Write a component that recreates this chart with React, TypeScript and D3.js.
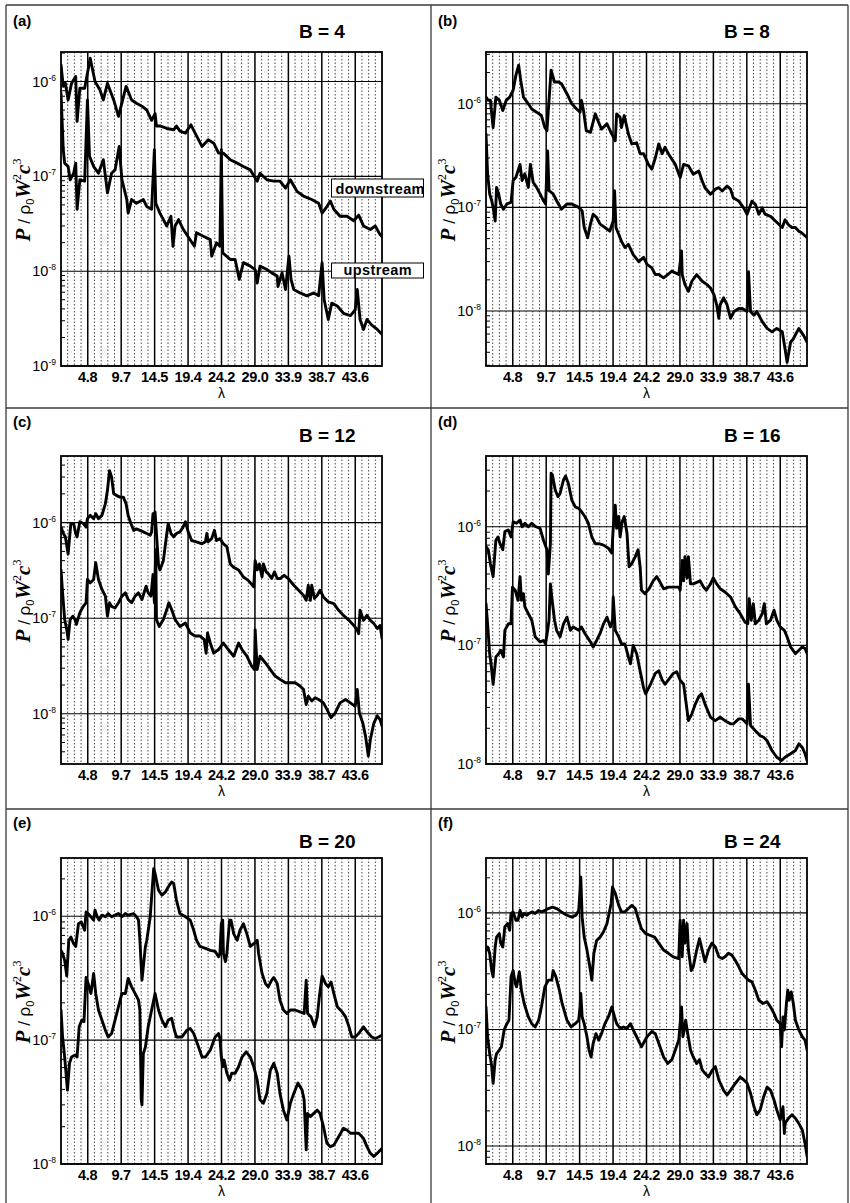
import React, { useEffect, useRef } from 'react';
import * as d3 from 'd3';

// lambda axis: harmonics spaced 0.969, labels every 5th
const lambdaStep = 0.969;
const xTickLabels = ['4.8', '9.7', '14.5', '19.4', '24.2', '29.0', '33.9', '38.7', '43.6'];

// [lambda, P / rho0 W^2 c^3]
const aDown = [[0.97,1.5e-6],[1.3,8.9e-7],[1.6,9.6e-7],[2.0,6.4e-7],[2.5,9.6e-7],[3.1,1.13e-6],[3.3,3.8e-7],[3.7,8.5e-7],[4.4,8.5e-7],[5.2,1.76e-6],[5.9,1.0e-6],[6.6,8.2e-7],[7.1,6.4e-7],[7.7,9.6e-7],[8.6,6.4e-7],[9.3,4.3e-7],[10.4,8.9e-7],[11.2,6.4e-7],[11.9,5.9e-7],[12.7,5.5e-7],[13.4,5.0e-7],[14.1,3.9e-7],[14.6,4.6e-7],[14.8,3.4e-7],[15.3,3.4e-7],[16.3,3.2e-7],[17.3,3.1e-7],[17.7,3.4e-7],[18.2,3.0e-7],[19.0,2.86e-7],[19.8,3.5e-7],[20.4,2.86e-7],[21.4,2.07e-7],[22.3,2.43e-7],[23.1,2.24e-7],[23.8,1.76e-7],[24.5,1.76e-7],[25.5,1.5e-7],[26.5,1.38e-7],[27.4,1.27e-7],[28.4,1.17e-7],[29.4,8.9e-8],[29.8,1.08e-7],[30.8,9.2e-8],[31.8,8.9e-8],[32.7,8.9e-8],[33.5,7.5e-8],[34.2,9.2e-8],[35.2,6.9e-8],[36.1,6.2e-8],[37.3,5.7e-8],[38.3,5.2e-8],[38.8,4.1e-8],[39.5,4.8e-8],[40.0,5.5e-8],[40.5,4.5e-8],[41.4,3.8e-8],[42.4,3.8e-8],[43.4,3.4e-8],[44.1,3.9e-8],[44.8,3.0e-8],[45.8,2.75e-8],[46.5,3.0e-8],[47.2,2.43e-8],[47.5,2.3e-8]];
const aUp = [[0.97,7.5e-7],[1.3,1.9e-7],[1.5,1.38e-7],[2.0,1.27e-7],[2.3,9.2e-8],[2.8,1.08e-7],[3.1,1.38e-7],[3.3,4.5e-8],[3.7,9.2e-8],[4.4,8.9e-8],[4.8,6.4e-7],[5.1,1.63e-7],[5.7,1.27e-7],[6.4,1.08e-7],[7.1,1.5e-7],[7.7,6.7e-8],[8.3,1.08e-7],[8.8,1.17e-7],[9.4,2.07e-7],[9.8,9.2e-8],[10.5,5.7e-8],[10.7,4.1e-8],[11.2,5.7e-8],[11.9,5.2e-8],[12.9,5.7e-8],[13.4,4.8e-8],[14.1,4.5e-8],[14.5,1.91e-7],[14.7,5.2e-8],[15.3,4.1e-8],[16.3,3.0e-8],[16.9,3.8e-8],[17.2,1.83e-8],[17.5,3.0e-8],[18.0,3.5e-8],[18.7,2.75e-8],[20.3,1.83e-8],[20.6,2.54e-8],[21.6,2.34e-8],[22.6,2.15e-8],[22.8,1.44e-8],[23.5,1.99e-8],[24.0,1.83e-8],[24.2,1.91e-7],[24.4,1.56e-8],[25.5,1.33e-8],[26.2,1.33e-8],[26.8,8.2e-9],[27.4,1.23e-8],[28.4,1.13e-8],[29.1,1.04e-8],[29.4,7.5e-9],[29.8,1.13e-8],[30.8,1.04e-8],[31.5,9.6e-9],[32.3,8.9e-9],[32.4,6.9e-9],[33.0,9.6e-9],[33.5,6.4e-9],[34.0,1.44e-8],[34.3,8.2e-9],[34.7,6.4e-9],[35.6,5.9e-9],[36.6,5.5e-9],[37.6,5.9e-9],[38.3,5.5e-9],[38.8,1.23e-8],[39.1,5.0e-9],[39.7,3.1e-9],[40.2,4.6e-9],[41.0,4.3e-9],[41.9,3.6e-9],[42.9,3.4e-9],[43.6,3.9e-9],[43.9,6.4e-9],[44.3,3.1e-9],[44.8,2.43e-9],[45.3,3.1e-9],[46.0,2.7e-9],[46.8,2.43e-9],[47.5,2.15e-9]];

const bDown = [[0.97,1.16e-6],[1.3,1.08e-6],[1.6,1.08e-6],[2.0,5.9e-7],[2.4,1.16e-6],[2.9,1.08e-6],[3.4,8.6e-7],[3.9,1.08e-6],[4.4,1.16e-6],[4.9,1.35e-6],[5.3,1.88e-6],[5.7,2.36e-6],[6.0,1.69e-6],[6.4,1.16e-6],[7.1,1.0e-6],[7.6,8.9e-7],[8.3,8.3e-7],[9.0,7.7e-7],[9.5,5.9e-7],[9.8,5.5e-7],[10.1,1.08e-6],[10.4,2.11e-6],[10.9,1.62e-6],[11.5,1.62e-6],[11.9,1.56e-6],[12.7,1.25e-6],[13.4,1.0e-6],[14.1,8.9e-7],[14.6,8.3e-7],[14.8,1.08e-6],[15.1,8.6e-7],[15.5,5.5e-7],[16.1,5.3e-7],[16.8,8.0e-7],[17.3,6.6e-7],[17.7,5.7e-7],[18.5,6.4e-7],[19.2,5.1e-7],[19.7,4.4e-7],[19.9,8.0e-7],[20.4,7.4e-7],[20.6,5.9e-7],[21.0,7.7e-7],[21.6,5.1e-7],[22.1,4.1e-7],[22.8,4.2e-7],[23.3,3.3e-7],[23.8,3.3e-7],[24.5,2.6e-7],[25.0,2.34e-7],[25.5,3.0e-7],[26.0,4.1e-7],[26.5,3.3e-7],[26.9,3.8e-7],[27.4,3.3e-7],[27.9,2.92e-7],[28.4,2.6e-7],[29.1,1.94e-7],[29.6,2.6e-7],[30.3,2.52e-7],[31.0,2.09e-7],[31.8,2.25e-7],[32.3,1.8e-7],[32.7,1.55e-7],[33.5,1.34e-7],[34.2,1.5e-7],[34.7,1.55e-7],[35.2,1.44e-7],[35.9,1.61e-7],[36.4,1.5e-7],[36.8,1.24e-7],[37.6,1.15e-7],[38.3,9.9e-8],[38.8,8.6e-8],[39.5,1.15e-7],[40.0,1.07e-7],[40.5,8.6e-8],[41.0,9.9e-8],[41.4,8.6e-8],[42.2,8.2e-8],[42.9,7.4e-8],[43.9,6.4e-8],[44.3,7.6e-8],[44.8,6.8e-8],[45.3,6.4e-8],[45.8,6.4e-8],[46.3,5.9e-8],[46.7,5.7e-8],[47.5,5.1e-8]];
const bUp = [[0.97,5.1e-7],[1.2,2.11e-7],[1.5,1.35e-7],[1.8,1.16e-7],[2.0,1.0e-7],[2.3,7.4e-8],[2.5,1.56e-7],[2.8,1.35e-7],[3.1,1.08e-7],[3.5,9.6e-8],[4.0,1.08e-7],[4.6,1.12e-7],[4.9,1.82e-7],[5.3,1.95e-7],[5.9,2.6e-7],[6.2,1.82e-7],[6.6,2.11e-7],[7.1,1.56e-7],[7.4,2.6e-7],[7.8,1.75e-7],[8.3,1.56e-7],[8.8,1.35e-7],[9.3,1.16e-7],[9.6,1.08e-7],[9.9,3.5e-7],[10.1,1.45e-7],[10.7,1.35e-7],[11.2,1.16e-7],[11.9,9.6e-8],[12.7,1.08e-7],[13.4,1.08e-7],[14.4,1.0e-7],[14.9,9.3e-8],[15.2,6.4e-8],[15.7,5.1e-8],[16.1,6.9e-8],[16.5,8.6e-8],[17.0,8.0e-8],[17.5,6.9e-8],[18.2,6.4e-8],[18.9,5.9e-8],[19.4,7.4e-8],[19.6,1.45e-7],[19.8,6.4e-8],[20.2,5.5e-8],[20.6,4.7e-8],[21.1,4.1e-8],[21.6,4.4e-8],[22.3,3.5e-8],[23.1,3.0e-8],[23.8,3.3e-8],[24.3,2.82e-8],[25.0,2.61e-8],[25.5,2.25e-8],[26.0,2.25e-8],[26.7,2.09e-8],[27.3,2.25e-8],[27.9,2.43e-8],[28.9,2.25e-8],[29.3,3.8e-8],[29.4,2.25e-8],[29.8,1.8e-8],[30.3,1.55e-8],[30.8,1.94e-8],[31.5,2.25e-8],[32.3,1.94e-8],[33.0,1.8e-8],[33.5,1.67e-8],[34.0,1.44e-8],[34.4,1.15e-8],[34.7,8.5e-9],[34.9,1.15e-8],[35.4,1.34e-8],[35.9,1.15e-8],[36.4,8.5e-9],[36.9,9.9e-9],[37.6,1.06e-8],[38.1,1.06e-8],[38.8,9.9e-9],[39.0,2.4e-8],[39.3,9.9e-9],[39.8,9.1e-9],[40.2,9.9e-9],[41.0,7.9e-9],[41.7,6.8e-9],[42.4,6.3e-9],[43.1,6.8e-9],[43.9,6.3e-9],[44.3,4.3e-9],[44.6,3.2e-9],[45.1,5.0e-9],[45.5,5.4e-9],[46.3,6.8e-9],[47.0,5.8e-9],[47.5,5.0e-9]];

const cDown = [[0.97,9.0e-7],[1.3,7.7e-7],[1.6,7.1e-7],[2.0,4.7e-7],[2.4,9.8e-7],[2.8,9.8e-7],[3.1,7.7e-7],[3.3,7.1e-7],[3.7,1.02e-6],[4.2,9.8e-7],[4.6,9.0e-7],[4.8,1.1e-6],[5.2,1.19e-6],[5.7,1.1e-6],[6.0,1.24e-6],[6.4,1.1e-6],[6.9,1.19e-6],[7.4,1.58e-6],[7.7,2.18e-6],[8.0,3.5e-6],[8.3,3.0e-6],[8.6,2.01e-6],[9.0,1.93e-6],[9.5,1.85e-6],[10.0,1.85e-6],[10.4,1.58e-6],[10.7,1.19e-6],[11.1,9.8e-7],[11.5,8.3e-7],[11.9,8.6e-7],[12.4,8.3e-7],[12.9,8.0e-7],[13.4,7.7e-7],[13.9,7.4e-7],[14.1,8.0e-7],[14.3,1.24e-6],[14.5,9.8e-7],[14.6,1.29e-6],[14.8,7.7e-7],[15.1,3.6e-7],[15.3,3.2e-7],[15.8,4.0e-7],[16.3,7.7e-7],[16.5,9.8e-7],[16.9,7.7e-7],[17.3,7.1e-7],[17.7,7.7e-7],[18.2,8.0e-7],[18.6,8.8e-7],[19.0,1.02e-6],[19.4,8.0e-7],[19.9,6.5e-7],[20.6,6.3e-7],[21.4,6.0e-7],[21.9,6.3e-7],[22.1,7.7e-7],[22.3,6.3e-7],[22.8,6.8e-7],[23.2,8.3e-7],[23.5,6.5e-7],[24.0,6.8e-7],[24.5,6.0e-7],[25.0,5.6e-7],[25.5,3.7e-7],[26.0,3.4e-7],[26.7,3.2e-7],[27.4,2.7e-7],[28.1,2.49e-7],[28.9,2.13e-7],[29.1,4.0e-7],[29.4,3.2e-7],[29.7,3.7e-7],[30.1,2.7e-7],[30.3,3.7e-7],[30.7,3.05e-7],[31.0,2.93e-7],[31.5,2.6e-7],[31.9,3.05e-7],[32.3,2.6e-7],[32.7,2.6e-7],[33.3,2.81e-7],[33.9,2.6e-7],[34.7,2.21e-7],[35.4,1.96e-7],[36.1,1.74e-7],[36.5,1.54e-7],[36.8,2.21e-7],[37.1,1.54e-7],[37.3,2.21e-7],[37.7,1.61e-7],[38.1,1.74e-7],[38.5,1.96e-7],[39.0,1.67e-7],[39.7,1.48e-7],[40.5,1.42e-7],[41.2,1.21e-7],[41.9,1.07e-7],[42.7,9.5e-8],[43.4,8.4e-8],[43.9,7.5e-8],[44.1,6.9e-8],[44.3,1.21e-7],[44.8,9.5e-8],[45.3,1.07e-7],[45.8,9.5e-8],[46.3,8.8e-8],[46.8,7.8e-8],[47.2,8.4e-8],[47.5,6.1e-8]];
const cUp = [[0.97,3.2e-7],[1.2,1.84e-7],[1.5,9.7e-8],[1.8,7.6e-8],[2.0,6.0e-8],[2.3,9.7e-8],[2.7,1.05e-7],[3.0,9.7e-8],[3.2,8.6e-8],[3.7,1.14e-7],[4.2,1.33e-7],[4.6,1.45e-7],[4.8,2.54e-7],[5.2,2.34e-7],[5.7,2.54e-7],[6.0,3.8e-7],[6.4,2.54e-7],[6.9,2.0e-7],[7.4,1.7e-7],[7.7,1.05e-7],[8.0,1.45e-7],[8.3,1.33e-7],[8.8,1.28e-7],[9.3,1.45e-7],[9.8,1.7e-7],[10.3,1.84e-7],[10.7,1.57e-7],[11.2,1.45e-7],[11.7,1.7e-7],[12.2,1.84e-7],[12.7,1.57e-7],[13.3,2.16e-7],[13.6,1.84e-7],[14.0,1.7e-7],[14.3,2.86e-7],[14.5,1.45e-7],[14.7,5.2e-7],[14.8,9.7e-8],[15.2,8.2e-8],[15.8,9.7e-8],[16.3,1.23e-7],[16.6,1.45e-7],[17.0,1.23e-7],[17.5,9.7e-8],[18.2,8.2e-8],[19.0,8.9e-8],[19.7,7.0e-8],[20.4,6.5e-8],[21.1,6.5e-8],[21.7,6.0e-8],[22.0,4.3e-8],[22.2,7.0e-8],[22.6,5.5e-8],[23.1,4.3e-8],[23.8,4.7e-8],[24.5,5.5e-8],[25.2,4.7e-8],[26.0,4.0e-8],[26.7,5.5e-8],[27.2,4.7e-8],[27.9,4.0e-8],[28.6,3.15e-8],[29.0,2.9e-8],[29.1,7.6e-8],[29.4,2.9e-8],[29.8,4.0e-8],[30.6,3.4e-8],[31.3,2.9e-8],[32.0,2.48e-8],[32.7,2.29e-8],[33.5,2.11e-8],[34.2,2.11e-8],[34.9,2.11e-8],[35.6,1.95e-8],[36.1,1.8e-8],[36.5,1.25e-8],[36.8,1.53e-8],[37.3,1.36e-8],[37.8,1.47e-8],[38.3,1.41e-8],[39.0,1.3e-8],[39.5,1.11e-8],[40.1,9.1e-9],[40.7,1.02e-8],[41.4,1.3e-8],[42.2,1.41e-8],[42.9,1.3e-8],[43.6,1.2e-8],[43.9,1.8e-8],[44.2,1.02e-8],[44.7,8.0e-9],[45.1,5.8e-9],[45.5,3.6e-9],[45.8,5.4e-9],[46.3,8.0e-9],[46.8,9.5e-9],[47.2,8.7e-9],[47.5,7.4e-9]];

const dDown = [[0.97,6.8e-7],[1.3,6.4e-7],[1.6,4.9e-7],[2.0,3.8e-7],[2.4,7.7e-7],[2.7,8.2e-7],[3.0,7.2e-7],[3.4,6.4e-7],[3.7,9.1e-7],[4.2,9.4e-7],[4.6,8.2e-7],[4.9,1.1e-6],[5.4,1.07e-6],[5.9,1.14e-6],[6.2,1.0e-6],[6.6,1.07e-6],[7.1,1.0e-6],[7.6,1.07e-6],[8.2,1.0e-6],[8.8,9.7e-7],[9.3,7.7e-7],[9.8,6.4e-7],[10.0,4.0e-7],[10.3,7.2e-7],[10.4,2.83e-6],[10.6,2.73e-6],[11.0,2.04e-6],[11.4,1.79e-6],[11.7,1.91e-6],[12.2,2.48e-6],[12.5,2.68e-6],[12.9,2.32e-6],[13.4,1.68e-6],[13.9,1.47e-6],[14.4,1.43e-6],[14.8,1.34e-6],[15.3,1.22e-6],[15.8,1.07e-6],[16.3,8.2e-7],[16.8,7.2e-7],[17.3,7.2e-7],[18.0,7.0e-7],[18.7,6.6e-7],[19.2,6.0e-7],[19.4,9.7e-7],[19.7,1.52e-6],[19.9,9.7e-7],[20.2,1.22e-6],[20.4,8.2e-7],[20.7,1.1e-6],[21.0,1.22e-6],[21.4,8.8e-7],[21.7,4.6e-7],[22.1,4.9e-7],[22.6,5.6e-7],[23.0,6.4e-7],[23.3,4.6e-7],[23.5,2.92e-7],[24.0,2.73e-7],[24.6,3.0e-7],[25.2,3.5e-7],[25.7,3.8e-7],[26.2,3.4e-7],[26.7,3.0e-7],[27.4,3.1e-7],[28.1,3.1e-7],[28.9,3.1e-7],[29.1,2.92e-7],[29.4,5.2e-7],[29.6,3.5e-7],[29.8,5.6e-7],[30.1,3.7e-7],[30.3,5.6e-7],[30.6,3.3e-7],[31.0,3.3e-7],[31.5,3.4e-7],[32.0,3.5e-7],[32.5,3.1e-7],[32.9,2.92e-7],[33.5,3.3e-7],[33.9,3.7e-7],[34.4,3.3e-7],[34.9,3.0e-7],[35.6,2.82e-7],[36.4,2.56e-7],[37.1,2.11e-7],[37.8,1.85e-7],[38.5,1.57e-7],[38.9,1.52e-7],[39.1,2.48e-7],[39.4,1.63e-7],[39.7,2.25e-7],[40.0,1.52e-7],[40.5,1.63e-7],[41.0,1.85e-7],[41.3,2.25e-7],[41.6,1.52e-7],[42.2,1.63e-7],[42.7,1.98e-7],[43.1,1.63e-7],[43.6,1.43e-7],[44.2,1.34e-7],[44.6,1.18e-7],[45.1,9.7e-8],[45.8,8.5e-8],[46.3,9.1e-8],[46.8,9.7e-8],[47.2,9.4e-8],[47.5,8.5e-8]];
const dUp = [[0.97,2.25e-7],[1.2,1.52e-7],[1.5,8.5e-8],[1.7,7.0e-8],[2.0,4.7e-8],[2.4,8.0e-8],[2.8,8.5e-8],[3.1,9.1e-8],[3.5,8.0e-8],[3.7,1.34e-7],[4.2,1.52e-7],[4.6,1.52e-7],[4.8,3.1e-7],[5.2,2.92e-7],[5.6,2.4e-7],[5.9,3.8e-7],[6.1,2.4e-7],[6.4,2.73e-7],[6.6,2.11e-7],[7.1,1.85e-7],[7.6,1.63e-7],[8.1,1.18e-7],[8.8,1.07e-7],[9.3,1.1e-7],[9.6,1.03e-7],[9.9,1.34e-7],[10.1,1.63e-7],[10.3,3.3e-7],[10.5,2.56e-7],[10.9,1.63e-7],[11.2,1.34e-7],[11.7,1.18e-7],[12.2,1.52e-7],[12.7,1.73e-7],[13.2,1.34e-7],[13.6,1.43e-7],[14.4,1.34e-7],[14.8,1.43e-7],[15.3,1.26e-7],[16.1,1.07e-7],[16.5,9.7e-8],[17.0,1.1e-7],[17.5,1.26e-7],[18.0,1.52e-7],[18.5,1.73e-7],[19.0,1.43e-7],[19.3,1.63e-7],[19.4,2.56e-7],[19.7,1.34e-7],[20.2,1.18e-7],[20.6,1.03e-7],[21.1,1.03e-7],[21.6,8.0e-8],[21.9,7.0e-8],[22.3,1.0e-7],[22.8,8.5e-8],[23.3,6.1e-8],[23.8,4.4e-8],[24.1,3.9e-8],[24.8,4.7e-8],[25.5,5.8e-8],[26.0,6.1e-8],[26.5,5.1e-8],[26.9,4.7e-8],[27.7,5.4e-8],[28.1,5.8e-8],[28.6,6.0e-8],[29.1,5.1e-8],[29.6,4.7e-8],[30.3,2.32e-8],[30.8,2.65e-8],[31.3,3.2e-8],[31.8,3.7e-8],[32.2,3.9e-8],[32.7,3.2e-8],[33.5,2.48e-8],[34.2,2.32e-8],[34.9,2.48e-8],[35.6,2.32e-8],[36.4,2.18e-8],[36.8,2.18e-8],[37.6,2.4e-8],[38.1,2.4e-8],[38.8,2.18e-8],[39.0,4.7e-8],[39.3,2.11e-8],[40.0,1.91e-8],[40.7,1.73e-8],[41.2,1.68e-8],[41.7,1.57e-8],[42.4,1.3e-8],[43.1,1.14e-8],[43.8,1.07e-8],[44.3,1.14e-8],[45.1,1.22e-8],[45.8,1.3e-8],[46.3,1.48e-8],[46.8,1.38e-8],[47.2,1.22e-8],[47.5,1.07e-8]];

const eDown = [[0.97,5.3e-7],[1.2,5.0e-7],[1.5,4.4e-7],[1.8,3.3e-7],[2.1,6.4e-7],[2.4,6.8e-7],[2.8,6.0e-7],[3.1,5.7e-7],[3.5,8.7e-7],[3.9,9.0e-7],[4.2,8.2e-7],[4.4,7.7e-7],[4.6,1.08e-6],[4.9,1.05e-6],[5.3,9.9e-7],[5.7,9.3e-7],[5.9,1.12e-6],[6.2,9.9e-7],[6.5,9.3e-7],[6.9,1.02e-6],[7.4,9.9e-7],[7.8,1.05e-6],[8.3,9.9e-7],[8.8,1.02e-6],[9.3,1.05e-6],[9.8,9.9e-7],[10.3,1.05e-6],[10.7,1.02e-6],[11.5,1.05e-6],[11.9,9.9e-7],[12.2,9.3e-7],[12.4,6.4e-7],[12.7,3.05e-7],[12.9,3.9e-7],[13.2,5.7e-7],[13.4,6.4e-7],[13.9,9.9e-7],[14.1,1.43e-6],[14.4,2.42e-6],[14.6,2.21e-6],[15.1,1.62e-6],[15.6,1.48e-6],[16.1,1.57e-6],[16.5,1.72e-6],[17.0,1.89e-6],[17.3,1.83e-6],[17.7,1.35e-6],[18.2,1.05e-6],[19.0,9.9e-7],[19.7,9.3e-7],[20.2,7.7e-7],[20.6,6.4e-7],[21.1,5.7e-7],[21.9,5.5e-7],[22.6,5.3e-7],[23.3,5.2e-7],[23.8,4.7e-7],[24.0,5.0e-7],[24.2,8.7e-7],[24.4,9.3e-7],[24.5,5.0e-7],[24.8,4.3e-7],[25.0,5.0e-7],[25.4,9.3e-7],[25.6,9.3e-7],[26.0,7.2e-7],[26.5,6.4e-7],[26.9,7.7e-7],[27.4,8.7e-7],[27.9,7.2e-7],[28.4,5.7e-7],[28.9,6.0e-7],[29.4,6.4e-7],[29.6,5.0e-7],[30.1,3.45e-7],[30.6,2.86e-7],[31.0,2.69e-7],[31.5,3.05e-7],[31.8,3.2e-7],[32.3,2.86e-7],[32.7,2.1e-7],[33.2,1.75e-7],[33.7,1.64e-7],[34.2,1.75e-7],[34.9,1.75e-7],[35.6,1.69e-7],[36.2,1.64e-7],[36.5,3.05e-7],[36.7,1.64e-7],[37.2,1.54e-7],[37.7,1.28e-7],[38.1,1.54e-7],[38.4,2.23e-7],[38.8,3.3e-7],[39.3,2.86e-7],[39.7,2.69e-7],[40.1,2.95e-7],[40.5,2.38e-7],[41.0,1.86e-7],[41.7,1.69e-7],[42.2,1.54e-7],[42.7,1.28e-7],[43.1,1.06e-7],[43.6,1.06e-7],[44.1,1.13e-7],[44.8,1.28e-7],[45.3,1.17e-7],[46.0,1.06e-7],[46.5,1.03e-7],[47.0,1.06e-7],[47.5,1.1e-7]];
const eUp = [[0.97,1.75e-7],[1.2,1.06e-7],[1.5,7.3e-8],[1.7,5.4e-8],[1.9,3.95e-8],[2.2,6.5e-8],[2.5,7.3e-8],[3.0,7.6e-8],[3.3,7.3e-8],[3.6,1.28e-7],[4.0,1.45e-7],[4.3,1.41e-7],[4.6,3.2e-7],[4.9,2.86e-7],[5.3,2.38e-7],[5.7,3.45e-7],[6.0,2.38e-7],[6.4,1.75e-7],[6.9,1.45e-7],[7.4,1.2e-7],[7.8,1.06e-7],[8.3,1.13e-7],[8.8,1.45e-7],[9.3,1.86e-7],[9.8,2.38e-7],[10.3,2.38e-7],[10.7,3.15e-7],[11.2,2.69e-7],[11.7,2.38e-7],[12.2,2.1e-7],[12.4,1.75e-7],[12.6,3.3e-8],[12.7,3.0e-8],[12.9,7.8e-8],[13.2,8.8e-8],[13.6,1.28e-7],[14.1,1.75e-7],[14.4,2.1e-7],[14.6,2.38e-7],[15.1,1.75e-7],[15.6,1.45e-7],[16.1,1.28e-7],[16.5,1.45e-7],[17.0,1.5e-7],[17.4,1.2e-7],[17.7,1.06e-7],[18.5,1.06e-7],[19.2,1.2e-7],[19.7,1.24e-7],[20.2,1.13e-7],[20.9,8.8e-8],[21.4,7.3e-8],[21.9,7.3e-8],[22.6,8.3e-8],[23.3,1.06e-7],[23.8,1.13e-7],[24.0,1.03e-7],[24.2,7.3e-8],[24.4,6.1e-8],[24.6,6.9e-8],[25.0,5.4e-8],[25.4,4.75e-8],[25.7,5.4e-8],[26.2,5.4e-8],[26.7,6.1e-8],[27.2,7.3e-8],[27.8,8.05e-8],[28.4,7.3e-8],[28.9,6.1e-8],[29.4,4.75e-8],[29.8,3.3e-8],[30.3,3.1e-8],[30.8,3.7e-8],[31.3,5.7e-8],[31.8,6.5e-8],[32.3,5.4e-8],[32.7,3.7e-8],[33.2,2.72e-8],[33.7,2.26e-8],[34.2,3.1e-8],[34.7,3.7e-8],[35.3,4.5e-8],[35.9,3.95e-8],[36.2,3.3e-8],[36.5,1.3e-8],[36.7,2.56e-8],[37.1,2.41e-8],[37.6,2.56e-8],[38.1,2.72e-8],[38.5,2.56e-8],[39.0,2.0e-8],[39.5,1.47e-8],[40.0,1.38e-8],[40.5,1.42e-8],[41.2,1.66e-8],[41.9,1.94e-8],[42.4,1.88e-8],[42.9,1.77e-8],[43.4,1.77e-8],[44.1,1.77e-8],[44.8,1.61e-8],[45.3,1.38e-8],[45.8,1.22e-8],[46.3,1.15e-8],[46.8,1.22e-8],[47.5,1.34e-8]];

const fDown = [[0.97,4.8e-7],[1.2,5.1e-7],[1.5,4.5e-7],[1.8,3.2e-7],[2.0,2.83e-7],[2.3,5.1e-7],[2.5,6.2e-7],[2.9,6.65e-7],[3.1,5.5e-7],[3.4,5.1e-7],[3.7,7.6e-7],[4.1,8.1e-7],[4.4,7.1e-7],[4.6,9.9e-7],[4.9,1.02e-6],[5.3,8.65e-7],[5.6,8.65e-7],[5.9,1.05e-6],[6.2,9.2e-7],[6.5,9.9e-7],[6.9,9.55e-7],[7.2,9.9e-7],[7.6,1.02e-6],[8.1,9.9e-7],[8.6,1.05e-6],[9.0,1.02e-6],[9.5,1.05e-6],[10.0,1.09e-6],[10.6,1.12e-6],[11.2,1.09e-6],[11.9,1.02e-6],[12.7,9.55e-7],[13.4,9.2e-7],[14.0,9.55e-7],[14.4,1.05e-6],[14.6,1.56e-6],[14.7,2.04e-6],[14.9,9.2e-7],[15.2,6.2e-7],[15.6,4.8e-7],[16.1,3.2e-7],[16.3,2.65e-7],[16.6,4.5e-7],[17.0,5.8e-7],[17.5,6.2e-7],[18.0,6.9e-7],[18.5,8.1e-7],[18.8,9.9e-7],[19.1,1.2e-6],[19.3,1.67e-6],[19.7,1.47e-6],[20.2,1.16e-6],[20.6,1.02e-6],[21.1,1.02e-6],[21.6,1.09e-6],[22.1,1.16e-6],[22.6,1.09e-6],[23.1,8.65e-7],[23.5,7.3e-7],[24.1,6.65e-7],[24.8,6.4e-7],[25.4,6.2e-7],[26.0,5.5e-7],[26.7,4.8e-7],[27.4,4.5e-7],[28.1,4.2e-7],[28.9,4.06e-7],[29.1,8.65e-7],[29.4,4.2e-7],[29.6,8.65e-7],[29.8,5.5e-7],[30.1,8.1e-7],[30.3,4.8e-7],[30.7,3.2e-7],[31.0,3.45e-7],[31.5,4.8e-7],[31.9,6.0e-7],[32.3,4.8e-7],[32.7,3.8e-7],[33.2,4.8e-7],[33.7,5.5e-7],[34.2,5.1e-7],[34.7,4.2e-7],[35.2,4.06e-7],[35.6,4.2e-7],[36.1,4.5e-7],[36.6,4.34e-7],[37.1,3.9e-7],[37.6,3.45e-7],[38.1,3.0e-7],[38.5,2.83e-7],[39.0,2.65e-7],[39.5,2.56e-7],[40.0,2.17e-7],[40.5,1.78e-7],[41.1,1.67e-7],[41.7,1.73e-7],[42.2,1.56e-7],[42.7,1.37e-7],[43.1,1.2e-7],[43.6,1.12e-7],[43.8,7.1e-8],[44.0,1.28e-7],[44.2,9.9e-8],[44.5,1.67e-7],[44.7,2.17e-7],[44.9,1.78e-7],[45.2,2.1e-7],[45.5,1.67e-7],[45.8,1.2e-7],[46.3,9.9e-8],[46.8,8.65e-8],[47.2,8.1e-8],[47.5,6.65e-8]];
const fUp = [[0.97,1.56e-7],[1.2,8.65e-8],[1.5,6.2e-8],[1.8,4.8e-8],[2.0,3.45e-8],[2.3,5.5e-8],[2.5,6.2e-8],[2.9,6.65e-8],[3.2,7.1e-8],[3.6,9.9e-8],[4.0,1.12e-7],[4.3,1.2e-7],[4.6,2.83e-7],[4.9,3.2e-7],[5.2,2.48e-7],[5.4,2.32e-7],[5.8,3.12e-7],[6.1,2.17e-7],[6.5,1.67e-7],[7.1,1.28e-7],[7.6,1.12e-7],[8.1,1.05e-7],[8.6,1.2e-7],[9.0,1.56e-7],[9.5,2.32e-7],[10.0,2.65e-7],[10.5,2.65e-7],[10.7,3.2e-7],[11.1,2.83e-7],[11.6,2.17e-7],[12.0,1.67e-7],[12.7,1.2e-7],[13.3,1.05e-7],[13.9,1.12e-7],[14.4,1.2e-7],[14.6,1.56e-7],[14.7,2.04e-7],[14.9,1.28e-7],[15.2,1.12e-7],[15.6,8.65e-8],[15.9,6.65e-8],[16.2,5.8e-8],[16.5,7.6e-8],[16.9,9.2e-8],[17.3,8.1e-8],[17.7,9.2e-8],[18.2,1.12e-7],[18.7,1.28e-7],[19.2,1.56e-7],[19.6,1.28e-7],[19.9,1.12e-7],[20.4,1.02e-7],[20.9,1.05e-7],[21.4,1.02e-7],[21.9,1.12e-7],[22.3,9.9e-8],[22.8,8.65e-8],[23.5,7.1e-8],[24.3,8.65e-8],[25.0,9.6e-8],[25.5,9.2e-8],[26.0,7.6e-8],[26.7,5.8e-8],[27.3,5.1e-8],[27.9,5.5e-8],[28.4,6.65e-8],[28.9,8.1e-8],[29.1,1.12e-7],[29.3,1.56e-7],[29.5,8.65e-8],[29.7,9.9e-8],[29.9,1.2e-7],[30.2,9.2e-8],[30.6,6.65e-8],[31.0,5.8e-8],[31.5,5.1e-8],[31.9,5.5e-8],[32.3,4.5e-8],[32.7,4.2e-8],[33.2,3.9e-8],[33.8,4.5e-8],[34.2,4.8e-8],[34.7,3.7e-8],[35.4,3.0e-8],[35.9,2.74e-8],[36.4,3.0e-8],[37.1,3.45e-8],[37.8,3.9e-8],[38.3,3.7e-8],[38.8,3.45e-8],[39.3,2.83e-8],[39.8,2.17e-8],[40.2,1.85e-8],[40.7,2.04e-8],[41.2,2.65e-8],[41.7,3.2e-8],[42.2,3.0e-8],[42.7,2.48e-8],[43.1,2.04e-8],[43.6,1.67e-8],[44.0,2.17e-8],[44.2,1.28e-8],[44.3,1.56e-8],[44.8,1.73e-8],[45.3,1.85e-8],[45.8,1.73e-8],[46.3,1.56e-8],[46.8,1.37e-8],[47.2,1.05e-8],[47.5,8.1e-9]];

const panelLetters = ['(a)', '(b)', '(c)', '(d)', '(e)', '(f)'];
const bladeCounts = [4, 8, 12, 16, 20, 24];
const downSeries = [aDown, bDown, cDown, dDown, eDown, fDown];
const upSeries = [aUp, bUp, cUp, dUp, eUp, fUp];
const yDomains = [[1e-9, 2.05e-6], [2.95e-9, 3.16e-6], [2.98e-9, 4.98e-6], [1e-8, 3.95e-6], [1e-8, 2.95e-6], [7.0e-9, 2.96e-6]];

// layout
const colLeft = [61, 486];
const colEdge = [6, 431];
const plotW = 321;
const rowTop = [52, 456, 858];
const rowBottom = [366, 764, 1164];
const titleBase = [38, 442, 848];
const letterBase = [26, 427, 828];

const sans = '"Liberation Sans", Arial, sans-serif';
const serif = '"Liberation Serif", "Times New Roman", serif';

export default function App() {
  const ref = useRef<SVGSVGElement>(null);

  useEffect(() => {
    const svg = d3.select(ref.current);
    svg.selectAll('*').remove();

    // frame lines
    const frame = svg.append('g').attr('stroke', '#3a3a3a').attr('stroke-width', 1.3);
    frame.append('line').attr('x1', 6).attr('x2', 848).attr('y1', 5).attr('y2', 5);
    frame.append('line').attr('x1', 6).attr('x2', 6).attr('y1', 5).attr('y2', 1203);
    frame.append('line').attr('x1', 848).attr('x2', 848).attr('y1', 5).attr('y2', 1203);
    frame.append('line').attr('x1', 431).attr('x2', 431).attr('y1', 5).attr('y2', 1203);
    frame.append('line').attr('x1', 6).attr('x2', 848).attr('y1', 408).attr('y2', 408);
    frame.append('line').attr('x1', 6).attr('x2', 848).attr('y1', 809).attr('y2', 809);

    panelLetters.forEach((letter, i) => {
      const col = i % 2, row = Math.floor(i / 2);
      const left = colLeft[col], right = left + plotW;
      const top = rowTop[row], bottom = rowBottom[row];

      const x = d3.scaleLinear().domain([lambdaStep, 49 * lambdaStep]).range([left, right]);
      const y = d3.scaleLog().domain(yDomains[i]).range([bottom, top]);

      const g = svg.append('g');
      const clipId = 'clip' + i;
      g.append('clipPath').attr('id', clipId).append('rect')
        .attr('x', left).attr('y', top).attr('width', plotW).attr('height', bottom - top);

      // minor vertical dotted grid
      const minor = d3.range(2, 49).filter(k => k % 5 !== 0).map(k => k * lambdaStep);
      g.selectAll('.minor').data(minor).enter().append('line')
        .attr('x1', d => x(d)).attr('x2', d => x(d)).attr('y1', top).attr('y2', bottom)
        .attr('stroke', '#333').attr('stroke-width', 0.9).attr('stroke-dasharray', '1.5,2');

      // major vertical grid
      const major = xTickLabels.map((_, k) => (k + 1) * 5 * lambdaStep);
      g.selectAll('.major').data(major).enter().append('line')
        .attr('x1', d => x(d)).attr('x2', d => x(d)).attr('y1', top).attr('y2', bottom)
        .attr('stroke', '#000').attr('stroke-width', 1.5);

      // decade grid
      const [lo, hi] = yDomains[i];
      const decades = d3.range(Math.ceil(Math.log10(lo) - 1e-9), Math.floor(Math.log10(hi)) + 1);
      g.selectAll('.dec').data(decades).enter().append('line')
        .attr('x1', left).attr('x2', right).attr('y1', d => y(Math.pow(10, d))).attr('y2', d => y(Math.pow(10, d)))
        .attr('stroke', '#000').attr('stroke-width', 1.1);

      // minor y ticks on left axis
      const yMinor: number[] = [];
      decades.concat([decades[0] - 1]).forEach(d => {
        for (let m = 2; m <= 9; m++) {
          const v = m * Math.pow(10, d);
          if (v > lo && v < hi) yMinor.push(v);
        }
      });
      g.selectAll('.ymin').data(yMinor).enter().append('line')
        .attr('x1', left).attr('x2', left + 4).attr('y1', d => y(d)).attr('y2', d => y(d))
        .attr('stroke', '#000').attr('stroke-width', 1);

      // curves
      const line = d3.line<number[]>().x(d => x(d[0])).y(d => y(d[1])).curve(d3.curveLinear);
      const curves = g.append('g').attr('clip-path', `url(#${clipId})`);
      [downSeries[i], upSeries[i]].forEach(s => {
        curves.append('path').datum(s).attr('d', line)
          .attr('fill', 'none').attr('stroke', '#000').attr('stroke-width', 2.9)
          .attr('stroke-linejoin', 'round').attr('stroke-linecap', 'round');
      });

      // plot border
      g.append('rect').attr('x', left).attr('y', top).attr('width', plotW).attr('height', bottom - top)
        .attr('fill', 'none').attr('stroke', '#000').attr('stroke-width', 1.8);

      // y tick labels
      decades.forEach(d => {
        const t = g.append('text').attr('x', left - 5).attr('y', y(Math.pow(10, d)) + 5)
          .attr('text-anchor', 'end').attr('font-family', sans).attr('font-size', 14.5).text('10');
        t.append('tspan').attr('dy', -6).attr('font-size', 8.5).text(String(d));
      });

      // x tick labels
      g.selectAll('.xl').data(major).enter().append('text')
        .attr('x', d => x(d)).attr('y', bottom + 16).attr('text-anchor', 'middle')
        .attr('font-family', sans).attr('font-weight', 'bold').attr('font-size', 14.5).attr('letter-spacing', -0.3)
        .text((_, k) => xTickLabels[k]);

      // axis titles
      g.append('text').attr('x', (left + right) / 2).attr('y', bottom + 32).attr('text-anchor', 'middle')
        .attr('font-family', sans).attr('font-size', 14).text('λ');

      const yt = g.append('text')
        .attr('transform', `translate(${left - 31},${(top + bottom) / 2 - 9}) rotate(-90)`)
        .attr('text-anchor', 'middle').attr('font-size', 21);
      yt.append('tspan').attr('font-family', serif).attr('font-style', 'italic').attr('font-weight', 'bold').text('P');
      yt.append('tspan').attr('font-family', sans).attr('font-size', 17).text(' / ρ');
      yt.append('tspan').attr('font-family', sans).attr('font-size', 11).attr('dy', 4).text('0');
      yt.append('tspan').attr('font-family', serif).attr('font-style', 'italic').attr('font-weight', 'bold').attr('dy', -4).text('W');
      yt.append('tspan').attr('font-family', serif).attr('font-size', 12).attr('dy', -9).text('2');
      yt.append('tspan').attr('font-family', serif).attr('font-style', 'italic').attr('font-weight', 'bold').attr('dy', 9).text('c');
      yt.append('tspan').attr('font-family', serif).attr('font-size', 12).attr('dy', -9).text('3');

      // panel letter and title
      g.append('text').attr('x', colEdge[col] + 7).attr('y', letterBase[row])
        .attr('font-family', sans).attr('font-weight', 'bold').attr('font-size', 15).text(letter);
      g.append('text').attr('x', left + 238).attr('y', titleBase[row])
        .attr('font-family', sans).attr('font-weight', 'bold').attr('font-size', 19)
        .text(`B = ${bladeCounts[i]}`);

      // legend boxes (first panel only)
      if (i === 0) {
        const boxes = [{ label: 'downstream', y0: 127, h: 18, tx: 4 }, { label: 'upstream', y0: 211, h: 15, tx: 12 }];
        boxes.forEach(b => {
          g.append('rect').attr('x', left + 270.5).attr('y', top + b.y0).attr('width', 92).attr('height', b.h)
            .attr('fill', '#fff').attr('stroke', '#000').attr('stroke-width', 1);
          g.append('text').attr('x', left + 270.5 + b.tx).attr('y', top + b.y0 + b.h - 3.5)
            .attr('font-family', sans).attr('font-weight', 'bold').attr('font-size', 14.5)
            .attr('letter-spacing', 0.4).text(b.label);
        });
      }
    });
  }, []);

  return (
    <div style={{ position: 'absolute', left: 0, top: 0, background: '#fff' }}>
      <svg ref={ref} width={850} height={1203} style={{ display: 'block', background: '#fff' }} />
    </div>
  );
}
